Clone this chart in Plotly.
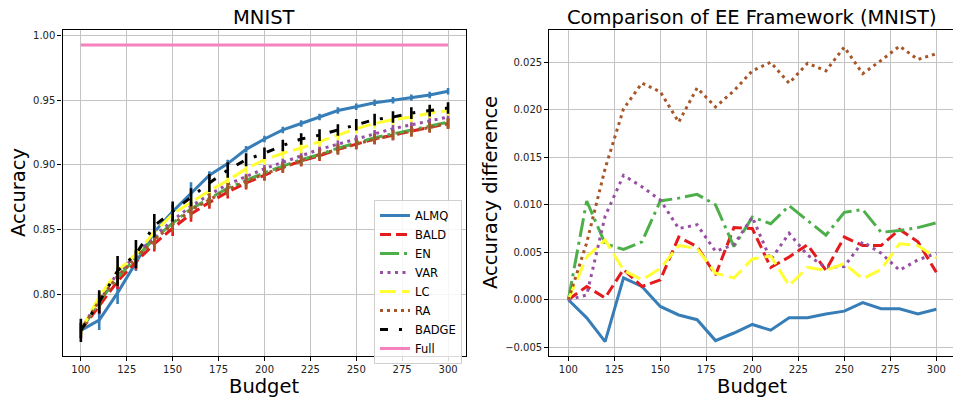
import plotly.graph_objects as go

budgets = [100, 110, 120, 130, 140, 150, 160, 170, 180, 190, 200,
           210, 220, 230, 240, 250, 260, 270, 280, 290, 300]

# ---- left panel: accuracy (mean) ----
acc_almq = [0.772, 0.780, 0.801, 0.824, 0.848, 0.864, 0.878, 0.892, 0.901, 0.912, 0.920,
            0.927, 0.932, 0.937, 0.942, 0.945, 0.948, 0.950, 0.952, 0.954, 0.957]
acc_bald = [0.772, 0.791, 0.810, 0.825, 0.839, 0.851, 0.862, 0.871, 0.879, 0.886, 0.892,
            0.898, 0.903, 0.907, 0.912, 0.916, 0.920, 0.923, 0.926, 0.929, 0.932]
acc_en = [0.772, 0.794, 0.813, 0.828, 0.843, 0.855, 0.866, 0.874, 0.882, 0.888, 0.894,
          0.899, 0.904, 0.908, 0.913, 0.917, 0.921, 0.924, 0.927, 0.930, 0.933]
acc_var = [0.772, 0.797, 0.816, 0.830, 0.845, 0.857, 0.868, 0.877, 0.885, 0.891, 0.897,
           0.902, 0.907, 0.912, 0.916, 0.920, 0.924, 0.928, 0.931, 0.934, 0.937]
acc_lc = [0.772, 0.798, 0.818, 0.831, 0.848, 0.862, 0.871, 0.880, 0.888, 0.897, 0.904,
          0.909, 0.913, 0.918, 0.923, 0.928, 0.932, 0.935, 0.937, 0.940, 0.942]
acc_ra = [0.772, 0.795, 0.814, 0.828, 0.842, 0.854, 0.865, 0.873, 0.881, 0.887, 0.893,
          0.898, 0.903, 0.908, 0.912, 0.916, 0.920, 0.923, 0.926, 0.929, 0.932]
acc_badge = [0.772, 0.794, 0.818, 0.831, 0.853, 0.864, 0.875, 0.886, 0.896, 0.904, 0.909,
             0.915, 0.920, 0.923, 0.927, 0.931, 0.935, 0.937, 0.940, 0.942, 0.944]
acc_full = [0.9927] * 21

# ---- left panel: error bar half-widths ----
err_almq = [0.003, 0.0077, 0.0085, 0.006, 0.005, 0.005, 0.0085, 0.003, 0.003, 0.0025, 0.0025,
            0.0025, 0.0025, 0.0025, 0.0025, 0.0025, 0.0025, 0.0025, 0.0025, 0.0025, 0.0025]
err_bald = [0.006, 0.006, 0.006, 0.006, 0.006, 0.006, 0.006, 0.005, 0.005, 0.005, 0.004,
            0.004, 0.004, 0.004, 0.004, 0.004, 0.004, 0.004, 0.004, 0.004, 0.004]
err_en = [0.005, 0.005, 0.005, 0.005, 0.005, 0.005, 0.005, 0.004, 0.004, 0.004, 0.004,
          0.004, 0.004, 0.004, 0.004, 0.004, 0.004, 0.004, 0.004, 0.004, 0.004]
err_var = [0.003, 0.003, 0.003, 0.003, 0.003, 0.003, 0.003, 0.003, 0.003, 0.003, 0.003,
           0.003, 0.003, 0.003, 0.003, 0.003, 0.003, 0.003, 0.003, 0.003, 0.003]
err_lc = [0.004, 0.004, 0.004, 0.004, 0.004, 0.004, 0.004, 0.004, 0.004, 0.004, 0.004,
          0.004, 0.004, 0.004, 0.004, 0.004, 0.004, 0.004, 0.004, 0.004, 0.004]
err_ra = [0.006, 0.006, 0.006, 0.006, 0.007, 0.006, 0.006, 0.005, 0.005, 0.005, 0.005,
          0.004, 0.004, 0.004, 0.004, 0.004, 0.004, 0.004, 0.004, 0.004, 0.004]
err_badge = [0.009, 0.009, 0.0115, 0.011, 0.009, 0.0077, 0.007, 0.007, 0.006, 0.005, 0.0045,
             0.0045, 0.0045, 0.0045, 0.0045, 0.0045, 0.0045, 0.0045, 0.0045, 0.0045, 0.0045]

# ---- right panel: accuracy difference ----
diff_almq = [0, -0.0019, -0.0044, 0.0023, 0.0014, -0.0007, -0.0016, -0.0021, -0.0043, -0.0035, -0.0026,
             -0.0032, -0.0019, -0.0019, -0.0015, -0.0012, -0.0003, -0.00095, -0.00095, -0.0015, -0.0010]
diff_bald = [0, 0.0014, 0.0002, 0.0032, 0.0014, 0.0021, 0.0066, 0.0056, 0.0026, 0.0076, 0.0075,
             0.0034, 0.0045, 0.0058, 0.0031, 0.0066, 0.0057, 0.0057, 0.0074, 0.0061, 0.0029]
diff_en = [0, 0.0104, 0.0059, 0.0053, 0.0061, 0.0104, 0.0107, 0.0111, 0.0100, 0.0056, 0.0087,
           0.0080, 0.0099, 0.0083, 0.0068, 0.0092, 0.0095, 0.0071, 0.0073, 0.0076, 0.0081]
diff_var = [0, 0.0005, 0.0088, 0.0131, 0.0119, 0.0105, 0.0075, 0.0079, 0.0051, 0.0058, 0.0087,
            0.0042, 0.0070, 0.0047, 0.0034, 0.0035, 0.0061, 0.0049, 0.0031, 0.0042, 0.0049]
diff_lc = [0, 0.0045, 0.0063, 0.0031, 0.0021, 0.0033, 0.0057, 0.0054, 0.0028, 0.0023, 0.0043,
           0.0046, 0.0015, 0.0034, 0.0031, 0.0038, 0.0022, 0.0032, 0.0059, 0.0057, 0.0044]
diff_ra = [0, 0.0060, 0.0138, 0.0201, 0.0228, 0.0219, 0.0187, 0.0223, 0.0203, 0.0220, 0.0241,
           0.0250, 0.0228, 0.0249, 0.0241, 0.0266, 0.0238, 0.0252, 0.0267, 0.0253, 0.0259]

x_ticks = [100, 125, 150, 175, 200, 225, 250, 275, 300]

COL = {"ALMQ": "#377eb8", "BALD": "#e41a1c", "EN": "#4daf4a", "VAR": "#984ea3",
       "LC": "#ffff33", "RA": "#a65628", "BADGE": "#000000", "Full": "#f781bf"}
DASH = {"ALMQ": "solid", "BALD": "11px,5px", "EN": "19px,5px,3px,5px", "VAR": "3px,4.5px",
        "LC": "16px,6px", "RA": "3px,4px", "BADGE": "8px,11px,3px,11px", "Full": "solid"}
LW = 3

fig = go.Figure()

left = [("ALMQ", acc_almq, err_almq), ("BALD", acc_bald, err_bald), ("EN", acc_en, err_en),
        ("VAR", acc_var, err_var), ("LC", acc_lc, err_lc), ("RA", acc_ra, err_ra),
        ("BADGE", acc_badge, err_badge), ("Full", acc_full, None)]
for name, y, e in left:
    tr = dict(x=budgets, y=y, name=name, mode="lines",
              line=dict(color=COL[name], width=LW, dash=DASH[name]),
              xaxis="x", yaxis="y", showlegend=True)
    if e is not None:
        tr["error_y"] = dict(type="data", array=e, visible=True, width=0,
                             thickness=2.6, color=COL[name])
    fig.add_trace(go.Scatter(**tr))

right = [("ALMQ", diff_almq), ("BALD", diff_bald), ("EN", diff_en), ("VAR", diff_var),
         ("LC", diff_lc), ("RA", diff_ra)]
for name, y in right:
    fig.add_trace(go.Scatter(x=budgets, y=y, name=name, mode="lines",
                             line=dict(color=COL[name], width=LW, dash=DASH[name]),
                             xaxis="x2", yaxis="y2", showlegend=False))

W, H = 953, 398
FONT = "DejaVu Sans"
ydom = [1 - 356 / H, 1 - 30 / H]
axis_common = dict(showgrid=True, gridcolor="#c4c4c4", gridwidth=1.2, zeroline=False,
                   showline=True, linecolor="black", linewidth=1.3,
                   ticks="outside", ticklen=4, tickwidth=1, tickcolor="black",
                   tickfont=dict(family=FONT, size=10, color="#222"), automargin=False)

fig.update_layout(
    width=W, height=H, margin=dict(l=0, r=0, t=0, b=0),
    paper_bgcolor="white", plot_bgcolor="white",
    font=dict(family=FONT, color="black"),
    xaxis=dict(domain=[62.5 / W, 465.5 / W], range=[90, 309.5], tickvals=x_ticks,
               mirror=True, anchor="y", **axis_common),
    yaxis=dict(domain=ydom, range=[0.7522, 1.0043], tickvals=[0.80, 0.85, 0.90, 0.95, 1.00],
               tickformat=".2f", mirror=True, anchor="x", **axis_common),
    xaxis2=dict(domain=[549.3 / W, 1.0], range=[89.67, 309.07], tickvals=x_ticks,
                mirror=True, anchor="y2", **axis_common),
    yaxis2=dict(domain=ydom, range=[-0.00592, 0.0284],
                tickvals=[-0.005, 0.0, 0.005, 0.010, 0.015, 0.020, 0.025],
                tickformat=".3f", mirror=False, anchor="x2", **axis_common),
    legend=dict(x=462 / W, xanchor="right", y=1 - 200 / H, yanchor="top",
                bgcolor="rgba(255,255,255,0.85)", bordercolor="#d0d0d0", borderwidth=1,
                font=dict(family=FONT, size=11.5, color="black"), tracegroupgap=0,
                itemwidth=30),
)

ann = [
    dict(text="MNIST", x=264 / W, y=1 - 17 / H, size=19.5, angle=0),
    dict(text="Comparison of EE Framework (MNIST)", x=752 / W, y=1 - 17 / H, size=19.5, angle=0),
    dict(text="Budget", x=264 / W, y=1 - 386 / H, size=19.5, angle=0),
    dict(text="Budget", x=752 / W, y=1 - 386 / H, size=19.5, angle=0),
    dict(text="Accuracy", x=18 / W, y=1 - 193 / H, size=19.5, angle=-90),
    dict(text="Accuracy difference", x=490 / W, y=1 - 193 / H, size=19.5, angle=-90),
]
for a in ann:
    fig.add_annotation(text=a["text"], x=a["x"], y=a["y"], xref="paper", yref="paper",
                       xanchor="center", yanchor="middle", showarrow=False, borderpad=0,
                       textangle=a["angle"], font=dict(family=FONT, size=a["size"], color="black"))

fig.write_html("out.html", config={"displayModeBar": False},
               post_script="document.body.style.margin='0px';"
                           "document.body.style.overflow='hidden';")
